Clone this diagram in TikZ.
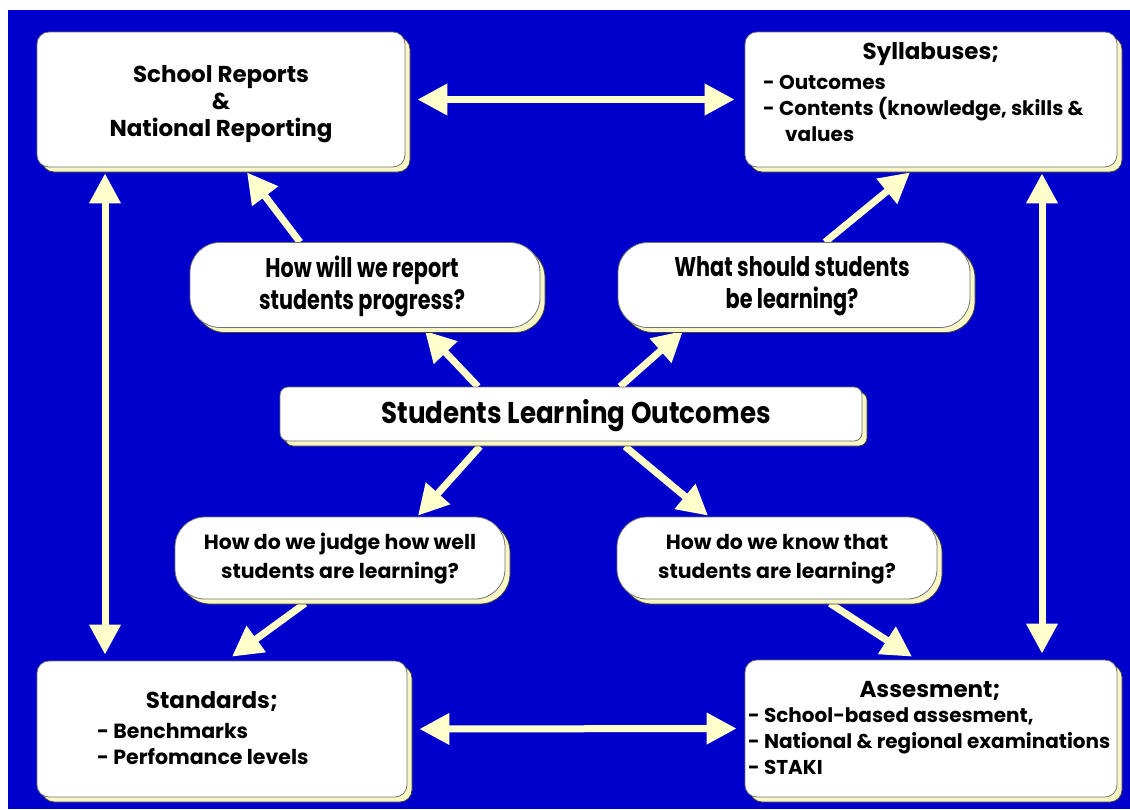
\documentclass[tikz,border=0pt]{standalone}
\usepackage{fontspec}
\setmainfont{Poppins}
\usepackage{graphicx}
\usetikzlibrary{arrows.meta,shadows,calc}
\definecolor{bgblue}{RGB}{0,0,204}
\definecolor{paleyel}{RGB}{255,255,204}
\definecolor{shadyel}{RGB}{248,246,196}
\newcommand{\cond}[1]{\scalebox{0.77}[1]{#1}}
\pgfdeclarelayer{background}
\pgfsetlayers{background,main}
\tikzset{
  boxbase/.style={draw=black!55, line width=0.8pt, fill=white, inner sep=0pt,
    drop shadow={shadow xshift=5pt, shadow yshift=-5pt, fill=shadyel, draw=black!75, line width=0.8pt, opacity=1}},
  rbox/.style={boxbase, rounded corners=12pt},
  pill/.style={boxbase, rounded corners=30pt},
  cbox/.style={boxbase, rounded corners=8pt},
  ttl/.style={font=\fontsize{23}{27}\selectfont\bfseries, align=center, inner sep=0pt},
  itm/.style={font=\fontsize{20}{26}\selectfont\bfseries, align=left, inner sep=0pt, anchor=west},
  qtxt/.style={font=\fontsize{27}{32}\selectfont\bfseries, align=center, inner sep=0pt},
  qtxtb/.style={font=\fontsize{20.5}{29}\selectfont\bfseries, align=center, inner sep=0pt},
  arr/.style={draw=paleyel, line width=7pt, -{Triangle[length=30pt,width=31pt]}},
  darr/.style={draw=paleyel, line width=7pt, {Triangle[length=30pt,width=30pt]}-{Triangle[length=30pt,width=30pt]}},
}
\begin{document}
\begin{tikzpicture}[x=1pt,y=-1pt]
\useasboundingbox (0,0) rectangle (1130,809);
% boxes
\node[rbox, minimum width=368pt, minimum height=135pt] (school) at (221,99.5) {};
\node[rbox, minimum width=372pt, minimum height=135pt] (syll) at (931,99.5) {};
\node[rbox, minimum width=370pt, minimum height=136pt] (stand) at (222,729) {};
\node[rbox, minimum width=372pt, minimum height=137pt] (assess) at (931,728.5) {};
\node[pill, minimum width=350pt, minimum height=85pt] (tlq) at (365,285) {};
\node[pill, minimum width=352pt, minimum height=85pt] (trq) at (794,285) {};
\node[cbox, minimum width=582pt, minimum height=54pt] (central) at (571,414) {};
\node[pill, minimum width=330pt, minimum height=82pt] (blq) at (340,558) {};
\node[pill, minimum width=320pt, minimum height=82pt] (brq) at (777,558) {};
% texts
\node[ttl] (schoolT) at (221,104) {School Reports\\\&\\National Reporting};
\node[ttl] (syllT) at (931,54) {Syllabuses;};
\node[itm] (syllL) at (763,108) {- Outcomes\\- Contents (knowledge, skills \&\\\hspace{1.1em}values};
\node[ttl] (standT) at (212,701) {Standards;};
\node[itm, font=\fontsize{20.5}{26}\selectfont\bfseries] (standL) at (97,744) {- Benchmarks\\- Perfomance levels};
\node[ttl] (assessT) at (930,691) {Assesment;};
\node[itm] (assessL) at (748,741) {- School-based assesment,\\- National \& regional examinations\\- STAKI};
\node[qtxt] (tlqT) at (362,286) {\cond{How will we report}\\\cond{students progress?}};
\node[qtxt] (trqT) at (792,286) {\cond{What should students}\\\cond{be learning?}};
\node[font=\fontsize{30}{32}\selectfont\bfseries, inner sep=0pt] (centralT) at (576,416) {\scalebox{0.87}[1]{Students Learning Outcomes}};
\node[qtxtb] (blqT) at (340,559) {How do we judge how well\\students are learning?};
\node[qtxtb] (brqT) at (777,559) {How do we know that\\students are learning?};
% background and connectors
\begin{pgfonlayer}{background}
\fill[bgblue] (8,10) rectangle (1130,809);
\draw[darr] ([xshift=12pt]school.east) -- ([xshift=-10pt]syll.west);
\draw[darr] ([xshift=12pt]stand.east) -- ([xshift=-8pt]assess.west);
\draw[darr] ([xshift=-116pt,yshift=-6pt]school.south) -- ([xshift=-117pt,yshift=6pt]stand.north);
\draw[darr] ([xshift=111pt,yshift=-6pt]syll.south) -- ([xshift=111pt,yshift=6pt]assess.north);
\draw[arr] ([xshift=-65pt]tlq.north) -- ([xshift=26pt,yshift=-5pt]school.south);
\draw[arr] ([xshift=-93pt]central.north) -- ([xshift=60pt,yshift=-3pt]tlq.south);
\draw[arr] ([xshift=49pt]central.north) -- ([xshift=-111pt,yshift=-3pt]trq.south);
\draw[arr] ([xshift=31pt]trq.north) -- ([xshift=-21pt,yshift=-5pt]syll.south);
\draw[arr] ([xshift=-91pt,yshift=-5pt]central.south) -- ([xshift=78pt,yshift=1pt]blq.north);
\draw[arr] ([xshift=54pt,yshift=-5pt]central.south) -- ([xshift=-69pt,yshift=1pt]brq.north);
\draw[arr] ([xshift=-35pt,yshift=-4pt]blq.south) -- ([xshift=10pt,yshift=4pt]stand.north);
\draw[arr] ([xshift=53pt,yshift=-4pt]brq.south) -- ([xshift=-19pt,yshift=3pt]assess.north);
\end{pgfonlayer}
\end{tikzpicture}
\end{document}
